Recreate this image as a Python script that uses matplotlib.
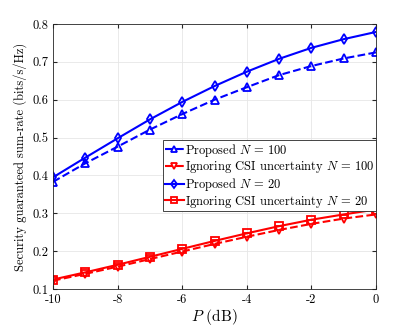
import numpy as np
import matplotlib
matplotlib.use("Agg")
import matplotlib.pyplot as plt

plt.rcParams["font.family"] = ["cmr10", "DejaVu Serif"]
plt.rcParams["mathtext.fontset"] = "cm"
plt.rcParams["axes.formatter.use_mathtext"] = True

P_dB = [-10, -9, -8, -7, -6, -5, -4, -3, -2, -1, 0]
prop_100 = [0.383, 0.432, 0.476, 0.521, 0.562, 0.600, 0.633, 0.665, 0.689, 0.709, 0.725]
ign_100 = [0.122, 0.140, 0.159, 0.179, 0.199, 0.219, 0.238, 0.256, 0.272, 0.286, 0.297]
prop_20 = [0.395, 0.447, 0.498, 0.548, 0.594, 0.636, 0.674, 0.708, 0.737, 0.760, 0.779]
ign_20 = [0.125, 0.144, 0.164, 0.185, 0.206, 0.227, 0.247, 0.266, 0.283, 0.297, 0.310]

fig = plt.figure(figsize=(4.15, 3.27), dpi=100)
ax = fig.add_axes([53/415, 1 - 289/327, (376 - 53)/415, (289 - 24)/327])

mk = dict(markersize=5.5, markerfacecolor="none", markeredgewidth=1.3, linewidth=1.5)
ax.plot(P_dB, prop_100, "--", marker="^", color="blue", label=r"Proposed $N\,=\,100$", **mk)
ax.plot(P_dB, ign_100, "--", marker="v", color="red", label=r"Ignoring CSI uncertainty $N\,=\,100$", **mk)
ax.plot(P_dB, prop_20, "-", marker="d", color="blue", label=r"Proposed $N\,=\,20$", **mk)
ax.plot(P_dB, ign_20, "-", marker="s", color="red", label=r"Ignoring CSI uncertainty $N\,=\,20$", **mk)

ax.set_xlim(-10, 0)
ax.set_ylim(0.1, 0.8)
ax.set_xticks([-10, -8, -6, -4, -2, 0])
ax.set_xticklabels(["-10", "-8", "-6", "-4", "-2", "0"])
ax.set_yticks([0.1, 0.2, 0.3, 0.4, 0.5, 0.6, 0.7, 0.8])
ax.set_yticklabels(["0.1", "0.2", "0.3", "0.4", "0.5", "0.6", "0.7", "0.8"])
ax.tick_params(labelsize=9, direction="in", length=3, color="#262626", top=True, right=True)
ax.grid(True, color="#e6e6e6", linewidth=0.6)
for s in ax.spines.values():
    s.set_color("#262626")
    s.set_linewidth(0.6)

ax.set_xlabel(r"$P$ (dB)", fontsize=11, labelpad=1)
ax.set_ylabel("Security guaranteed sum-rate (bits/s/Hz)", fontsize=9, labelpad=4)

leg = ax.legend(loc="upper right", bbox_to_anchor=(1.0, 0.563), borderaxespad=0,
                fontsize=9, fancybox=False, edgecolor="#262626", framealpha=1,
                handlelength=1.5, handletextpad=0.1, borderpad=0.15, labelspacing=0.05,
                markerscale=0.8)
leg.get_frame().set_linewidth(0.6)

fig.savefig("out.png", dpi=100)
